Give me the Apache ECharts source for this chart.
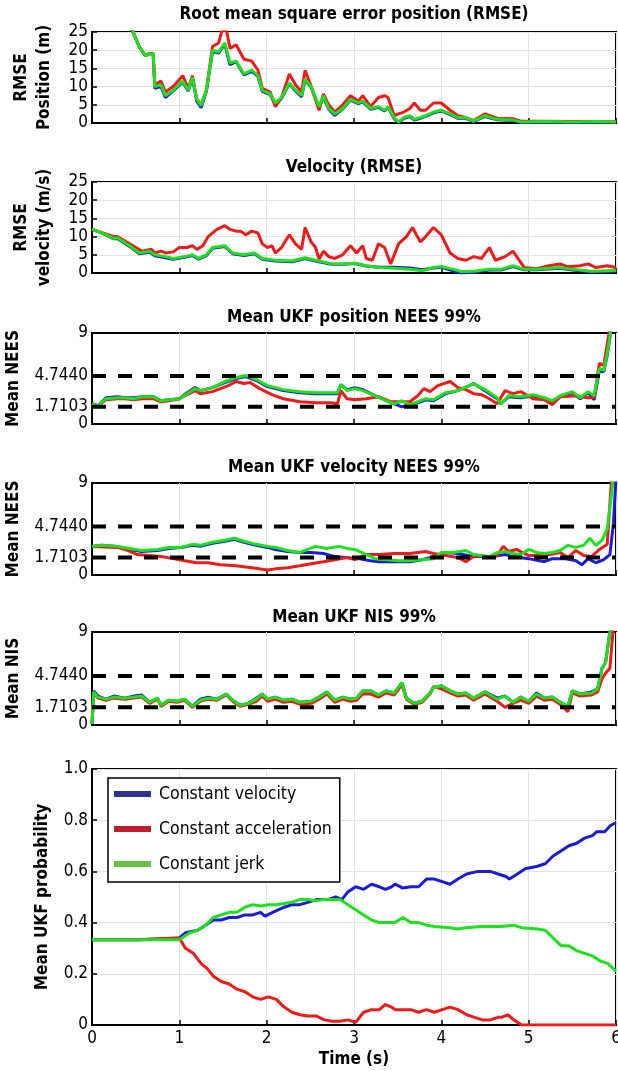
<!DOCTYPE html>
<html><head><meta charset="utf-8">
<script src="https://cdn.jsdelivr.net/npm/echarts@6/dist/echarts.min.js"></script>
<style>html,body{margin:0;padding:0;background:#fff}#c{width:618px;height:1071px}</style>
</head><body><div id="c"></div>
<script>
// ---------- DATA ----------
const seriesNames = ['Constant velocity', 'Constant acceleration', 'Constant jerk'];
const xTicks = [0, 1, 2, 3, 4, 5, 6];
const rmseTicks = [0, 5, 10, 15, 20, 25];
const neesTicks = [0, 1.7103, 4.7440, 9];
const neesBounds = [1.7103, 4.7440];
const probTicks = [0, 0.2, 0.4, 0.6, 0.8, 1.0];

// Panel 1: RMSE position (m)
const p1Green = [[0,45],[0.3,32],[0.47,25],[0.54,21],[0.61,18.5],[0.65,19],[0.70,19],[0.72,10],[0.79,10.5],[0.84,7.5],[0.93,9],[1.04,11.5],[1.10,9],[1.15,12.5],[1.20,6.5],[1.25,4.8],[1.31,9],[1.38,20],[1.45,19.5],[1.52,22],[1.58,16.5],[1.65,17],[1.74,13.5],[1.83,14.5],[1.90,13],[1.95,9],[2.04,8],[2.10,5.5],[2.17,7],[2.26,11],[2.33,9],[2.40,7.5],[2.44,12],[2.51,10],[2.60,4.5],[2.65,7.5],[2.71,4],[2.78,2.5],[2.87,4],[2.96,6.5],[3.05,5.5],[3.10,6],[3.19,4],[3.28,4.5],[3.35,3.5],[3.39,4.5],[3.46,1.5],[3.51,0.3],[3.57,1.5],[3.64,2],[3.69,1],[3.76,1.5],[3.82,2],[3.91,3],[4.00,3.5],[4.10,2.5],[4.19,1.5],[4.28,1.5],[4.37,0.5],[4.50,2],[4.64,1],[4.82,0.8],[4.91,0.3],[5.2,0.4],[5.5,0.3],[5.8,0.4],[6.0,0.3]];
const p1Blue = [[0,45],[0.3,32],[0.47,25],[0.54,21],[0.61,18.5],[0.65,19],[0.70,19],[0.72,9.5],[0.79,10],[0.84,7],[0.93,8.8],[1.04,11.2],[1.10,8.8],[1.15,12.3],[1.20,6],[1.25,4.2],[1.31,8.8],[1.38,19.6],[1.45,19.2],[1.52,21.7],[1.58,16],[1.65,16.8],[1.74,13.2],[1.83,14.2],[1.90,12.8],[1.95,8.7],[2.04,7.8],[2.10,5],[2.17,6.8],[2.26,10.8],[2.33,8.8],[2.40,7.2],[2.44,11.8],[2.51,9.8],[2.60,4.2],[2.65,7.2],[2.71,3.8],[2.78,2.1],[2.87,3.8],[2.96,6.3],[3.05,5.3],[3.10,5.8],[3.19,3.8],[3.28,4.3],[3.35,3.3],[3.39,4.3],[3.46,1.2],[3.51,0.1],[3.57,1.3],[3.64,1.8],[3.69,0.8],[3.76,1.3],[3.82,1.8],[3.91,2.8],[4.00,3.3],[4.10,2.3],[4.19,1.3],[4.28,1.3],[4.37,0.4],[4.50,1.8],[4.64,0.9],[4.82,0.7],[4.91,0.2],[5.2,0.3],[5.5,0.2],[5.8,0.3],[6.0,0.2]];
const p1Red = [[0,45],[0.3,32],[0.47,25],[0.54,21],[0.61,18.5],[0.65,19],[0.70,19],[0.72,10.5],[0.79,11.5],[0.84,8.5],[0.93,10],[1.04,13],[1.10,9.5],[1.15,13],[1.20,6.5],[1.25,5],[1.31,9],[1.38,21],[1.45,22],[1.49,25.5],[1.54,25.5],[1.58,20.5],[1.65,21.5],[1.74,17.5],[1.83,17],[1.90,14.5],[1.95,9.5],[2.04,8.5],[2.10,4.5],[2.17,7],[2.26,13.5],[2.33,10.5],[2.40,8.5],[2.44,14.5],[2.51,10],[2.60,3.5],[2.65,8],[2.71,5],[2.78,3],[2.87,5],[2.96,7.5],[3.05,6],[3.10,7.5],[3.19,4.5],[3.28,7],[3.35,7.5],[3.39,7],[3.46,2],[3.51,2.5],[3.57,3],[3.64,4],[3.69,5.5],[3.76,3.5],[3.82,3.5],[3.91,5.5],[4.00,5.5],[4.10,3.5],[4.19,2],[4.28,1.5],[4.37,0.7],[4.50,2.5],[4.64,1.3],[4.82,1.2],[4.91,0.5],[5.2,0.5],[5.5,0.4],[5.8,0.4],[6.0,0.3]];

// Panel 2: RMSE velocity (m/s)
const p2Green = [[0,12],[0.11,11],[0.25,9.5],[0.29,9.7],[0.43,7.5],[0.54,5.5],[0.66,6],[0.72,5],[0.84,4.5],[0.93,4],[1.06,4.5],[1.15,5],[1.22,4],[1.31,5],[1.38,7],[1.52,7.5],[1.61,5.5],[1.74,5],[1.86,5.5],[1.95,4],[2.10,3.5],[2.29,3.3],[2.44,4.2],[2.56,3.5],[2.74,2.5],[2.87,2.5],[3.01,2.7],[3.14,2],[3.28,1.5],[3.46,1.3],[3.64,1.0],[3.78,0.6],[3.91,1.5],[4.00,1.8],[4.14,1.0],[4.23,0.4],[4.37,0.5],[4.55,1],[4.68,1],[4.82,2],[4.95,1],[5.09,1],[5.36,1.5],[5.50,1],[5.72,0.5],[6.0,0.7]];
const p2Blue = [[0,12],[0.11,11],[0.25,9.4],[0.29,9.5],[0.43,7.3],[0.54,5.3],[0.66,5.7],[0.72,4.7],[0.84,4.2],[0.93,3.8],[1.06,4.3],[1.15,4.8],[1.22,3.8],[1.31,4.8],[1.38,6.8],[1.52,7.3],[1.61,5.3],[1.74,4.8],[1.86,5.3],[1.95,3.8],[2.10,3.3],[2.29,3.1],[2.44,4.0],[2.56,3.3],[2.74,2.4],[2.87,2.4],[3.01,2.6],[3.14,1.9],[3.28,1.6],[3.46,1.6],[3.64,1.4],[3.78,0.9],[3.91,1.4],[4.00,1.6],[4.14,0.5],[4.23,0.0],[4.37,0.2],[4.55,0.8],[4.68,0.8],[4.82,1.8],[4.95,0.9],[5.09,0.9],[5.36,1.3],[5.50,0.8],[5.72,0.3],[6.0,0.5]];
const p2Red = [[0,12],[0.25,10],[0.29,10],[0.43,8],[0.57,6],[0.68,6.5],[0.72,5.5],[0.79,6],[0.84,5.5],[0.93,5.8],[1.00,7],[1.09,7],[1.15,7.5],[1.20,6.5],[1.27,7.5],[1.33,10],[1.43,12],[1.52,13],[1.58,12],[1.65,11.5],[1.70,11.5],[1.76,10.5],[1.83,11.5],[1.90,11],[1.95,8],[2.01,7],[2.06,7.5],[2.10,5.5],[2.17,7],[2.26,10.5],[2.33,8],[2.40,6.5],[2.44,12.5],[2.51,8.5],[2.56,7],[2.60,3.8],[2.65,6],[2.71,4.5],[2.78,4],[2.87,5],[2.96,7.5],[3.03,5.5],[3.10,7.5],[3.14,4],[3.21,3.5],[3.28,8],[3.35,7],[3.42,2.5],[3.51,8],[3.60,10],[3.67,12.5],[3.76,8.5],[3.82,10],[3.91,12.5],[4.00,10.5],[4.10,5.5],[4.19,4],[4.28,3.5],[4.37,4.5],[4.46,4],[4.55,7],[4.62,3.5],[4.73,4.5],[4.82,6],[4.95,1.5],[5.09,1.2],[5.23,2],[5.36,2.5],[5.45,1.7],[5.59,2.0],[5.68,2.5],[5.77,1.5],[5.90,2],[6.0,1.5]];

// Panel 3: mean UKF position NEES
const p3Green = [[0,2.0],[0.07,1.8],[0.16,2.5],[0.29,2.6],[0.38,2.6],[0.48,2.5],[0.57,2.7],[0.70,2.7],[0.79,2.3],[0.88,2.4],[1.00,2.5],[1.09,3.0],[1.18,3.5],[1.24,3.3],[1.38,3.6],[1.52,4.2],[1.65,4.6],[1.76,4.8],[1.88,4.4],[2.01,3.8],[2.19,3.4],[2.38,3.2],[2.56,3.1],[2.74,3.1],[2.81,3.1],[2.85,3.9],[2.92,3.3],[3.01,3.5],[3.10,3.3],[3.24,2.8],[3.37,2.3],[3.46,2.0],[3.55,2.3],[3.64,1.9],[3.73,2.2],[3.82,2.5],[3.91,2.4],[4.05,3.1],[4.19,3.3],[4.37,4.0],[4.50,3.4],[4.64,2.6],[4.68,2.0],[4.77,2.8],[4.91,2.7],[5.05,2.9],[5.18,2.6],[5.27,2.3],[5.36,2.8],[5.50,3.2],[5.59,2.6],[5.68,3.2],[5.75,2.8],[5.81,5.5],[5.86,5.3],[5.90,7.0],[5.94,9.2],[6.0,11]];
const p3Blue = [[0,2.0],[0.07,1.8],[0.16,2.6],[0.29,2.7],[0.38,2.6],[0.48,2.6],[0.57,2.7],[0.70,2.7],[0.79,2.3],[0.88,2.4],[1.00,2.5],[1.09,3.1],[1.18,3.6],[1.24,3.3],[1.38,3.6],[1.52,4.1],[1.65,4.5],[1.76,4.7],[1.88,4.3],[2.01,3.7],[2.19,3.3],[2.38,3.1],[2.56,3.0],[2.74,3.0],[2.81,3.0],[2.85,3.9],[2.92,3.4],[3.01,3.6],[3.10,3.4],[3.24,2.8],[3.37,2.3],[3.46,2.0],[3.55,1.7],[3.64,1.9],[3.73,2.1],[3.82,2.4],[3.91,2.3],[4.05,3.0],[4.19,3.3],[4.37,4.0],[4.50,3.3],[4.64,2.5],[4.68,2.0],[4.77,2.7],[4.91,2.6],[5.05,2.8],[5.18,2.5],[5.27,2.1],[5.36,2.7],[5.50,3.1],[5.59,2.5],[5.68,3.1],[5.75,2.4],[5.81,5.3],[5.86,5.2],[5.90,6.8],[5.94,9.2],[6.0,11]];
const p3Red = [[0,2.0],[0.07,1.8],[0.16,2.4],[0.29,2.5],[0.38,2.5],[0.48,2.4],[0.57,2.5],[0.70,2.5],[0.79,2.2],[0.88,2.3],[1.00,2.5],[1.09,2.9],[1.18,3.3],[1.24,3.0],[1.38,3.2],[1.56,3.8],[1.65,4.2],[1.74,4.0],[1.81,4.1],[1.92,3.5],[2.06,2.9],[2.19,2.5],[2.38,2.2],[2.56,2.1],[2.74,2.1],[2.81,2.0],[2.85,3.3],[2.92,2.5],[3.01,2.4],[3.14,2.5],[3.28,2.7],[3.42,2.2],[3.64,2.2],[3.73,2.8],[3.80,3.5],[3.87,3.2],[3.96,3.8],[4.10,4.2],[4.19,3.6],[4.28,3.4],[4.37,3.0],[4.46,2.9],[4.55,2.5],[4.64,2.0],[4.73,3.3],[4.82,3.0],[4.91,3.2],[5.05,2.5],[5.18,2.4],[5.27,1.9],[5.36,2.7],[5.54,2.8],[5.68,2.6],[5.75,2.6],[5.81,6.0],[5.86,5.8],[5.93,9.5],[6.0,11]];

// Panel 4: mean UKF velocity NEES
const p4Green = [[0,2.8],[0.11,2.9],[0.29,2.8],[0.43,2.6],[0.57,2.4],[0.75,2.5],[0.88,2.7],[1.02,2.7],[1.15,3.0],[1.24,2.9],[1.38,3.2],[1.52,3.4],[1.63,3.6],[1.74,3.3],[1.88,3.0],[2.01,2.8],[2.10,2.7],[2.24,2.4],[2.38,2.2],[2.47,2.5],[2.56,2.8],[2.69,2.6],[2.83,2.8],[2.92,2.6],[3.01,2.5],[3.14,2.0],[3.24,1.6],[3.37,1.5],[3.51,1.4],[3.64,1.4],[3.78,1.5],[3.91,1.6],[4.00,2.2],[4.14,2.2],[4.28,2.4],[4.37,2.0],[4.46,1.9],[4.55,1.8],[4.64,2.2],[4.73,2.3],[4.82,2.1],[4.91,2.0],[5.00,2.5],[5.09,2.2],[5.18,2.1],[5.27,2.2],[5.36,2.4],[5.45,2.9],[5.54,2.7],[5.63,2.9],[5.70,3.6],[5.77,2.9],[5.84,3.4],[5.90,4.5],[5.95,8],[5.97,9.5]];
const p4Blue = [[0,2.8],[0.11,2.9],[0.29,2.8],[0.43,2.5],[0.57,2.3],[0.75,2.4],[0.88,2.6],[1.02,2.7],[1.15,2.9],[1.24,2.8],[1.38,3.1],[1.52,3.3],[1.63,3.5],[1.74,3.2],[1.88,2.9],[2.01,2.7],[2.10,2.5],[2.24,2.3],[2.38,2.2],[2.51,2.2],[2.65,2.1],[2.78,1.8],[2.92,1.7],[3.05,1.6],[3.19,1.4],[3.28,1.3],[3.46,1.3],[3.64,1.3],[3.78,1.5],[3.91,1.8],[4.05,2.2],[4.19,2.1],[4.37,1.8],[4.59,1.8],[4.73,2.0],[4.82,1.8],[5.00,1.6],[5.18,1.3],[5.27,1.6],[5.41,1.6],[5.54,1.4],[5.61,1.0],[5.68,1.6],[5.77,1.2],[5.86,1.5],[5.93,2.0],[5.97,5],[6.0,9.5]];
const p4Red = [[0,2.8],[0.29,2.7],[0.38,2.5],[0.52,2.0],[0.66,1.9],[0.79,1.8],[0.93,1.6],[1.06,1.4],[1.20,1.2],[1.33,1.2],[1.47,1.0],[1.65,0.9],[1.83,0.7],[2.01,0.5],[2.10,0.6],[2.24,0.7],[2.38,0.9],[2.51,1.1],[2.65,1.3],[2.78,1.5],[2.92,1.7],[3.01,1.5],[3.14,2.0],[3.28,2.0],[3.46,2.1],[3.64,2.1],[3.82,2.3],[3.91,2.1],[4.05,1.9],[4.19,1.7],[4.28,1.3],[4.37,1.8],[4.46,1.9],[4.55,1.7],[4.64,1.9],[4.71,2.8],[4.77,2.3],[4.86,2.5],[5.00,1.9],[5.18,1.9],[5.36,2.2],[5.45,1.7],[5.54,2.4],[5.63,1.9],[5.72,1.8],[5.81,2.5],[5.90,3.0],[5.95,9.5]];

// Panel 5: mean UKF NIS
const p5Green = [[0,0.1],[0.02,3.2],[0.07,2.7],[0.16,2.5],[0.25,2.7],[0.38,2.6],[0.48,2.7],[0.57,2.8],[0.66,2.2],[0.75,2.6],[0.79,1.9],[0.88,2.4],[0.97,2.3],[1.06,2.5],[1.15,1.8],[1.24,2.4],[1.33,2.6],[1.43,2.5],[1.54,3.0],[1.61,2.4],[1.70,1.9],[1.79,2.1],[1.88,2.5],[1.95,3.0],[2.01,2.5],[2.10,2.7],[2.19,2.4],[2.29,2.5],[2.38,2.2],[2.51,2.3],[2.60,2.7],[2.69,3.2],[2.78,2.4],[2.87,2.7],[2.96,2.5],[3.03,2.6],[3.10,3.3],[3.19,3.3],[3.28,2.9],[3.37,3.3],[3.46,3.1],[3.55,4.1],[3.60,2.6],[3.69,2.1],[3.78,2.3],[3.87,3.1],[3.91,3.6],[4.00,3.8],[4.10,3.3],[4.19,3.0],[4.28,3.1],[4.37,2.6],[4.50,3.2],[4.64,2.5],[4.73,2.8],[4.82,2.2],[4.91,2.7],[5.00,2.3],[5.09,3.0],[5.18,2.6],[5.27,2.7],[5.36,2.2],[5.45,1.8],[5.50,3.3],[5.59,3.0],[5.72,3.1],[5.79,3.5],[5.84,5.5],[5.88,6.0],[5.93,9.0],[5.95,9.5]];
const p5Blue = [[0,0.1],[0.02,3.3],[0.07,2.8],[0.16,2.5],[0.25,2.8],[0.38,2.6],[0.48,2.8],[0.57,2.9],[0.66,2.2],[0.75,2.6],[0.79,1.9],[0.88,2.4],[0.97,2.3],[1.06,2.5],[1.15,1.8],[1.24,2.5],[1.33,2.7],[1.43,2.5],[1.54,3.0],[1.61,2.4],[1.70,1.9],[1.79,2.1],[1.88,2.6],[1.95,3.0],[2.01,2.5],[2.10,2.7],[2.19,2.4],[2.29,2.5],[2.38,2.2],[2.51,2.3],[2.60,2.7],[2.69,3.2],[2.78,2.4],[2.87,2.7],[2.96,2.5],[3.03,2.6],[3.10,3.3],[3.19,3.3],[3.28,2.9],[3.37,3.3],[3.46,3.1],[3.55,4.1],[3.60,2.6],[3.69,2.1],[3.78,2.3],[3.87,3.1],[3.91,3.6],[4.00,3.8],[4.10,3.3],[4.19,3.0],[4.28,3.1],[4.37,2.6],[4.50,3.2],[4.64,2.6],[4.73,2.8],[4.82,2.2],[4.91,2.7],[5.00,2.3],[5.09,3.1],[5.18,2.6],[5.27,2.7],[5.36,2.2],[5.45,1.8],[5.50,3.3],[5.59,3.0],[5.72,3.2],[5.79,3.5],[5.84,5.5],[5.88,6.0],[5.93,9.0],[5.95,9.5]];
const p5Red = [[0,0.1],[0.02,3.1],[0.07,2.6],[0.16,2.4],[0.25,2.6],[0.38,2.5],[0.48,2.6],[0.57,2.7],[0.66,2.1],[0.75,2.5],[0.79,1.8],[0.88,2.3],[0.97,2.2],[1.06,2.4],[1.15,1.7],[1.24,2.3],[1.33,2.5],[1.43,2.4],[1.54,2.9],[1.61,2.3],[1.70,1.8],[1.79,2.0],[1.88,2.3],[1.95,2.8],[2.01,2.3],[2.10,2.5],[2.19,2.2],[2.29,2.3],[2.38,2.0],[2.51,2.1],[2.60,2.5],[2.69,3.0],[2.78,2.2],[2.87,2.5],[2.96,2.3],[3.03,2.4],[3.10,3.0],[3.19,3.0],[3.28,2.7],[3.37,3.1],[3.46,2.9],[3.55,3.9],[3.60,2.5],[3.69,2.0],[3.78,2.2],[3.87,3.0],[3.91,3.7],[4.00,3.5],[4.10,3.1],[4.19,2.8],[4.28,2.9],[4.37,2.4],[4.50,3.0],[4.64,2.3],[4.73,1.7],[4.82,2.1],[4.91,2.4],[5.00,2.1],[5.09,2.8],[5.18,2.4],[5.27,2.5],[5.36,2.0],[5.45,1.3],[5.50,3.1],[5.59,2.8],[5.72,2.9],[5.79,3.2],[5.84,4.5],[5.88,5.0],[5.93,5.5],[5.97,9.5]];

// Panel 6: mean UKF model probability
const p6Blue = [[0,0.333],[0.53,0.333],[0.55,0.34],[1.00,0.34],[1.07,0.36],[1.21,0.37],[1.30,0.39],[1.39,0.41],[1.48,0.41],[1.57,0.42],[1.66,0.42],[1.75,0.43],[1.84,0.43],[1.93,0.44],[1.98,0.425],[2.07,0.44],[2.20,0.46],[2.29,0.47],[2.38,0.47],[2.48,0.48],[2.57,0.49],[2.70,0.49],[2.79,0.50],[2.86,0.49],[2.93,0.52],[3.02,0.54],[3.11,0.53],[3.20,0.55],[3.29,0.54],[3.36,0.53],[3.43,0.54],[3.47,0.55],[3.56,0.535],[3.65,0.54],[3.74,0.54],[3.83,0.57],[3.92,0.57],[4.01,0.56],[4.10,0.55],[4.19,0.57],[4.29,0.59],[4.42,0.60],[4.56,0.60],[4.65,0.59],[4.74,0.58],[4.78,0.57],[4.87,0.59],[4.96,0.61],[5.10,0.62],[5.19,0.63],[5.28,0.66],[5.37,0.68],[5.46,0.70],[5.55,0.71],[5.64,0.73],[5.73,0.74],[5.78,0.755],[5.87,0.755],[5.94,0.78],[6.0,0.79]];
const p6Red = [[0,0.333],[0.53,0.333],[0.55,0.34],[1.00,0.34],[1.07,0.30],[1.16,0.28],[1.25,0.24],[1.32,0.22],[1.39,0.19],[1.48,0.17],[1.57,0.16],[1.66,0.14],[1.75,0.13],[1.84,0.11],[1.93,0.10],[2.02,0.11],[2.11,0.10],[2.20,0.07],[2.29,0.05],[2.38,0.04],[2.47,0.035],[2.57,0.035],[2.66,0.02],[2.75,0.015],[2.84,0.015],[2.93,0.02],[3.02,0.01],[3.11,0.05],[3.20,0.06],[3.29,0.06],[3.36,0.08],[3.43,0.07],[3.47,0.06],[3.56,0.06],[3.65,0.06],[3.74,0.05],[3.83,0.06],[3.92,0.05],[4.01,0.06],[4.10,0.07],[4.19,0.06],[4.29,0.04],[4.38,0.03],[4.47,0.02],[4.56,0.02],[4.65,0.03],[4.69,0.03],[4.76,0.04],[4.83,0.02],[4.92,0.0],[5.01,0.0],[6.0,0.0]];
const p6Green = [[0,0.333],[1.00,0.333],[1.03,0.34],[1.12,0.36],[1.21,0.37],[1.30,0.39],[1.39,0.42],[1.48,0.43],[1.57,0.44],[1.66,0.44],[1.75,0.46],[1.84,0.47],[1.93,0.465],[2.02,0.47],[2.11,0.47],[2.20,0.475],[2.29,0.48],[2.38,0.49],[2.47,0.49],[2.56,0.485],[2.65,0.49],[2.74,0.49],[2.84,0.49],[2.93,0.47],[3.02,0.45],[3.11,0.43],[3.20,0.41],[3.29,0.40],[3.38,0.40],[3.47,0.40],[3.56,0.42],[3.65,0.40],[3.74,0.40],[3.83,0.39],[3.92,0.385],[4.10,0.38],[4.19,0.375],[4.28,0.38],[4.46,0.385],[4.56,0.385],[4.69,0.385],[4.83,0.39],[4.92,0.38],[5.10,0.375],[5.19,0.37],[5.28,0.34],[5.37,0.31],[5.46,0.31],[5.55,0.29],[5.64,0.28],[5.73,0.27],[5.82,0.25],[5.91,0.24],[6.0,0.21]];

const titles = ['Root mean square error position (RMSE)', 'Velocity (RMSE)', 'Mean UKF position NEES 99%', 'Mean UKF velocity NEES 99%', 'Mean UKF NIS 99%'];
const yNames = ['RMSE\nPosition (m)', 'RMSE\nvelocity (m/s)', 'Mean NEES', 'Mean NEES', 'Mean NIS', 'Mean UKF probability'];
const xName = 'Time (s)';

// ---------- STYLE / LAYOUT ----------
const FONT = '"DejaVu Sans Condensed","Liberation Sans Narrow",sans-serif';
const COLORS = ['#1c1cd8', '#ee1b1b', '#1ee01e'];
const LEGEND_COLORS = ['#2e3192', '#be1e2d', '#6cbe45'];
const GRID_LINE = '#e3e3e3';
const layout = [
  {top: 32, height: 91, titleTop: 6, nameGap: 36},
  {top: 182, height: 91, titleTop: 159, nameGap: 36},
  {top: 333, height: 91, titleTop: 309, nameGap: 60},
  {top: 483, height: 92, titleTop: 459, nameGap: 60},
  {top: 632, height: 93, titleTop: 609, nameGap: 60},
  {top: 769, height: 256, nameGap: 37}
];
const panelData = [
  [p1Blue, p1Red, p1Green],
  [p2Blue, p2Red, p2Green],
  [p3Blue, p3Red, p3Green],
  [p4Blue, p4Red, p4Green],
  [p5Blue, p5Red, p5Green],
  [p6Blue, p6Red, p6Green]
];

const chart = echarts.init(document.getElementById('c'), null, {renderer: 'canvas'});

const grid = layout.map(l => ({left: 92, width: 524, top: l.top, height: l.height, show: true,
  borderColor: '#000', borderWidth: 2, backgroundColor: 'transparent', containLabel: false, outerBoundsMode: 'none'}));

const labelStyle = {fontFamily: FONT, fontSize: 17, color: '#000', showMinLabel: true, showMaxLabel: true, hideOverlap: false};
const nameStyle = {fontFamily: FONT, fontSize: 17, fontWeight: 'bold', color: '#000', lineHeight: 23};

const xAxis = layout.map((l, i) => ({
  type: 'value', gridIndex: i, min: xTicks[0], max: xTicks[xTicks.length - 1], interval: 1,
  axisLine: {show: true, lineStyle: {color: '#000', width: 2}},
  axisTick: {show: true, inside: true, length: 5, lineStyle: {color: '#000', width: 1.5}},
  axisLabel: i === 5 ? Object.assign({show: true, margin: 5}, labelStyle) : {show: false},
  splitLine: {show: true, lineStyle: {color: GRID_LINE, width: 1}},
  name: i === 5 ? xName : '', nameLocation: 'middle', nameGap: 23, nameTextStyle: nameStyle
}));

const fmtNees = v => (v === 0 ? '0' : v === 9 ? '9' : v.toFixed(4));
const yAxis = layout.map((l, i) => {
  const base = {
    type: 'value', gridIndex: i,
    axisLine: {show: true, lineStyle: {color: '#000', width: 2}},
    axisTick: {show: true, inside: true, length: 5, lineStyle: {color: '#000', width: 1.5}},
    splitLine: {show: true, lineStyle: {color: GRID_LINE, width: 1}},
    name: yNames[i], nameLocation: 'middle', nameGap: l.nameGap, nameRotate: 90,
    nameTextStyle: Object.assign({}, nameStyle, {lineHeight: i < 2 ? 23 : 20})
  };
  if (i < 2) {
    return Object.assign(base, {min: rmseTicks[0], max: rmseTicks[rmseTicks.length - 1], interval: 5,
      axisLabel: Object.assign({margin: 4}, labelStyle)});
  } else if (i < 5) {
    return Object.assign(base, {min: neesTicks[0], max: neesTicks[neesTicks.length - 1],
      axisLabel: Object.assign({margin: 4, customValues: neesTicks, formatter: fmtNees}, labelStyle),
      axisTick: {show: true, inside: true, length: 5, customValues: neesTicks, lineStyle: {color: '#000', width: 1.5}},
      splitLine: {show: false}});
  }
  return Object.assign(base, {min: probTicks[0], max: probTicks[probTicks.length - 1], interval: 0.2,
    axisLabel: Object.assign({margin: 4, formatter: v => (v === 0 ? '0' : v.toFixed(1))}, labelStyle)});
});

const series = [];
panelData.forEach((arr, i) => {
  arr.forEach((d, k) => {
    series.push({
      type: 'line', name: seriesNames[k], xAxisIndex: i, yAxisIndex: i, data: d,
      showSymbol: false, symbol: 'none', clip: true, animation: false, z: 2 + k,
      lineStyle: {color: COLORS[k], width: 3}, itemStyle: {color: COLORS[k]}
    });
  });
  if (i >= 2 && i <= 4) {
    neesBounds.forEach(b => {
      series.push({
        type: 'line', xAxisIndex: i, yAxisIndex: i, data: [[0, b], [6, b]], silent: true,
        showSymbol: false, symbol: 'none', animation: false, z: 6,
        lineStyle: {color: '#000', width: 4, type: [14, 12]}
      });
    });
  }
});

const option = {
  backgroundColor: '#fff',
  animation: false,
  title: titles.map((t, i) => ({
    text: t, left: 354, top: layout[i].titleTop, textAlign: 'center', padding: 0,
    textStyle: {fontFamily: FONT, fontSize: 17, fontWeight: 'bold', color: '#000'}
  })),
  grid, xAxis, yAxis, series,
  legend: {
    data: seriesNames.map((n, k) => ({name: n, itemStyle: {color: LEGEND_COLORS[k]}})),
    orient: 'vertical', left: 108, top: 778, icon: 'rect', itemWidth: 37, itemHeight: 6, itemGap: 11,
    padding: [4, 8, 6, 6], borderColor: '#000', borderWidth: 1.5, backgroundColor: '#fff',
    selectedMode: false,
    textStyle: {fontFamily: FONT, fontSize: 17.5, color: '#000', lineHeight: 24, padding: [0, 0, 0, 3]}
  }
};
chart.setOption(option);
</script></body></html>
